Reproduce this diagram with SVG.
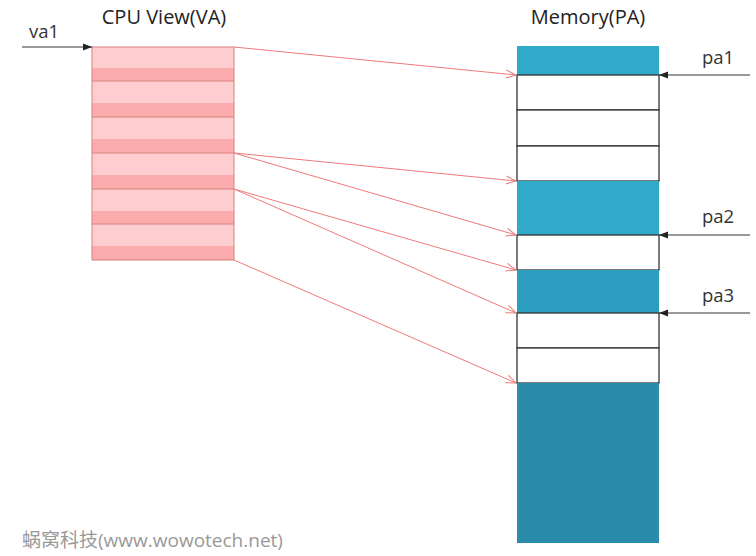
<svg xmlns="http://www.w3.org/2000/svg" width="756" height="556" viewBox="0 0 756 556">
<defs>
<style>
.t{font-family:"Open Sans","Liberation Sans",sans-serif;fill:#222;font-size:20px}
.lbl{font-family:"Open Sans","Liberation Sans",sans-serif;fill:#333;font-size:18.5px}
.va{stroke:#d98080;stroke-width:1}
.vl{fill:#fdcdd0}
.vd{fill:#fbacad}
.mw{fill:#fff;stroke:#333;stroke-width:1.3}
.red{stroke:#ee7a7a;stroke-width:1;fill:none;marker-end:url(#ra)}
.blk{stroke:#333;stroke-width:1;fill:none;marker-end:url(#ba)}
</style>
<marker id="ra" viewBox="0 0 10 10" refX="10" refY="5" markerWidth="10" markerHeight="10" markerUnits="userSpaceOnUse" orient="auto">
<path d="M0,1 L10,5 L0,9" fill="none" stroke="#ee7a7a" stroke-width="1"/>
</marker>
<marker id="ba" viewBox="0 0 10 10" refX="10" refY="5" markerWidth="9" markerHeight="9" markerUnits="userSpaceOnUse" orient="auto">
<path d="M0,1 L10,5 L0,9 z" fill="#222"/>
</marker>
</defs>
<rect width="756" height="556" fill="#fff"/>
<text class="t" x="164" y="24" text-anchor="middle">CPU View(VA)</text>
<text class="t" x="588" y="24" text-anchor="middle">Memory(PA)</text>
<g id="va-block">
<rect class="vl" x="92" y="47" width="142" height="34"/><rect class="vd" x="92" y="68" width="142" height="13"/>
<rect class="vl" x="92" y="81" width="142" height="36"/><rect class="vd" x="92" y="103" width="142" height="14"/>
<rect class="vl" x="92" y="117" width="142" height="36"/><rect class="vd" x="92" y="139" width="142" height="14"/>
<rect class="vl" x="92" y="153" width="142" height="36"/><rect class="vd" x="92" y="175" width="142" height="14"/>
<rect class="vl" x="92" y="189" width="142" height="35"/><rect class="vd" x="92" y="211" width="142" height="13"/>
<rect class="vl" x="92" y="224" width="142" height="36"/><rect class="vd" x="92" y="246" width="142" height="14"/>
<g class="va">
<line x1="92" y1="81" x2="234" y2="81"/><line x1="92" y1="117" x2="234" y2="117"/><line x1="92" y1="153" x2="234" y2="153"/><line x1="92" y1="189" x2="234" y2="189"/><line x1="92" y1="224" x2="234" y2="224"/>
<rect x="92" y="47" width="142" height="213" fill="none"/>
</g>
</g>
<g id="pa-block">
<rect x="517" y="46" width="142" height="29" fill="#31a9c9"/>
<rect class="mw" x="517" y="75" width="142" height="35"/>
<rect class="mw" x="517" y="110" width="142" height="36"/>
<rect class="mw" x="517" y="146" width="142" height="35"/>
<rect x="517" y="181" width="142" height="54" fill="#31a9c9"/>
<rect class="mw" x="517" y="235" width="142" height="35"/>
<rect x="517" y="270" width="142" height="43" fill="#2c9ec0"/>
<rect class="mw" x="517" y="313" width="142" height="35"/>
<rect class="mw" x="517" y="348" width="142" height="35"/>
<rect x="517" y="383" width="142" height="160" fill="#2a8ca8"/>
</g>
<g id="labels">
<text class="lbl" x="29" y="38">va1</text>
<text class="lbl" x="702" y="64">pa1</text>
<text class="lbl" x="702" y="223">pa2</text>
<text class="lbl" x="702" y="302">pa3</text>
</g>
<g id="connectors">
<line class="blk" x1="22" y1="47" x2="92" y2="47"/>
<line class="blk" x1="750" y1="75" x2="659" y2="75"/>
<line class="blk" x1="750" y1="235" x2="659" y2="235"/>
<line class="blk" x1="750" y1="313" x2="659" y2="313"/>
<line class="red" x1="234" y1="47" x2="516" y2="75"/>
<line class="red" x1="234" y1="153" x2="516" y2="181"/>
<line class="red" x1="234" y1="153" x2="516" y2="235"/>
<line class="red" x1="234" y1="189" x2="516" y2="270"/>
<line class="red" x1="234" y1="189" x2="516" y2="313"/>
<line class="red" x1="234" y1="260" x2="516" y2="383"/>
</g>
<text x="22" y="547" font-family="'Open Sans','Liberation Sans','Noto Sans CJK SC',sans-serif" font-size="19" fill="#999">蜗窝科技(www.wowotech.net)</text>
</svg>
